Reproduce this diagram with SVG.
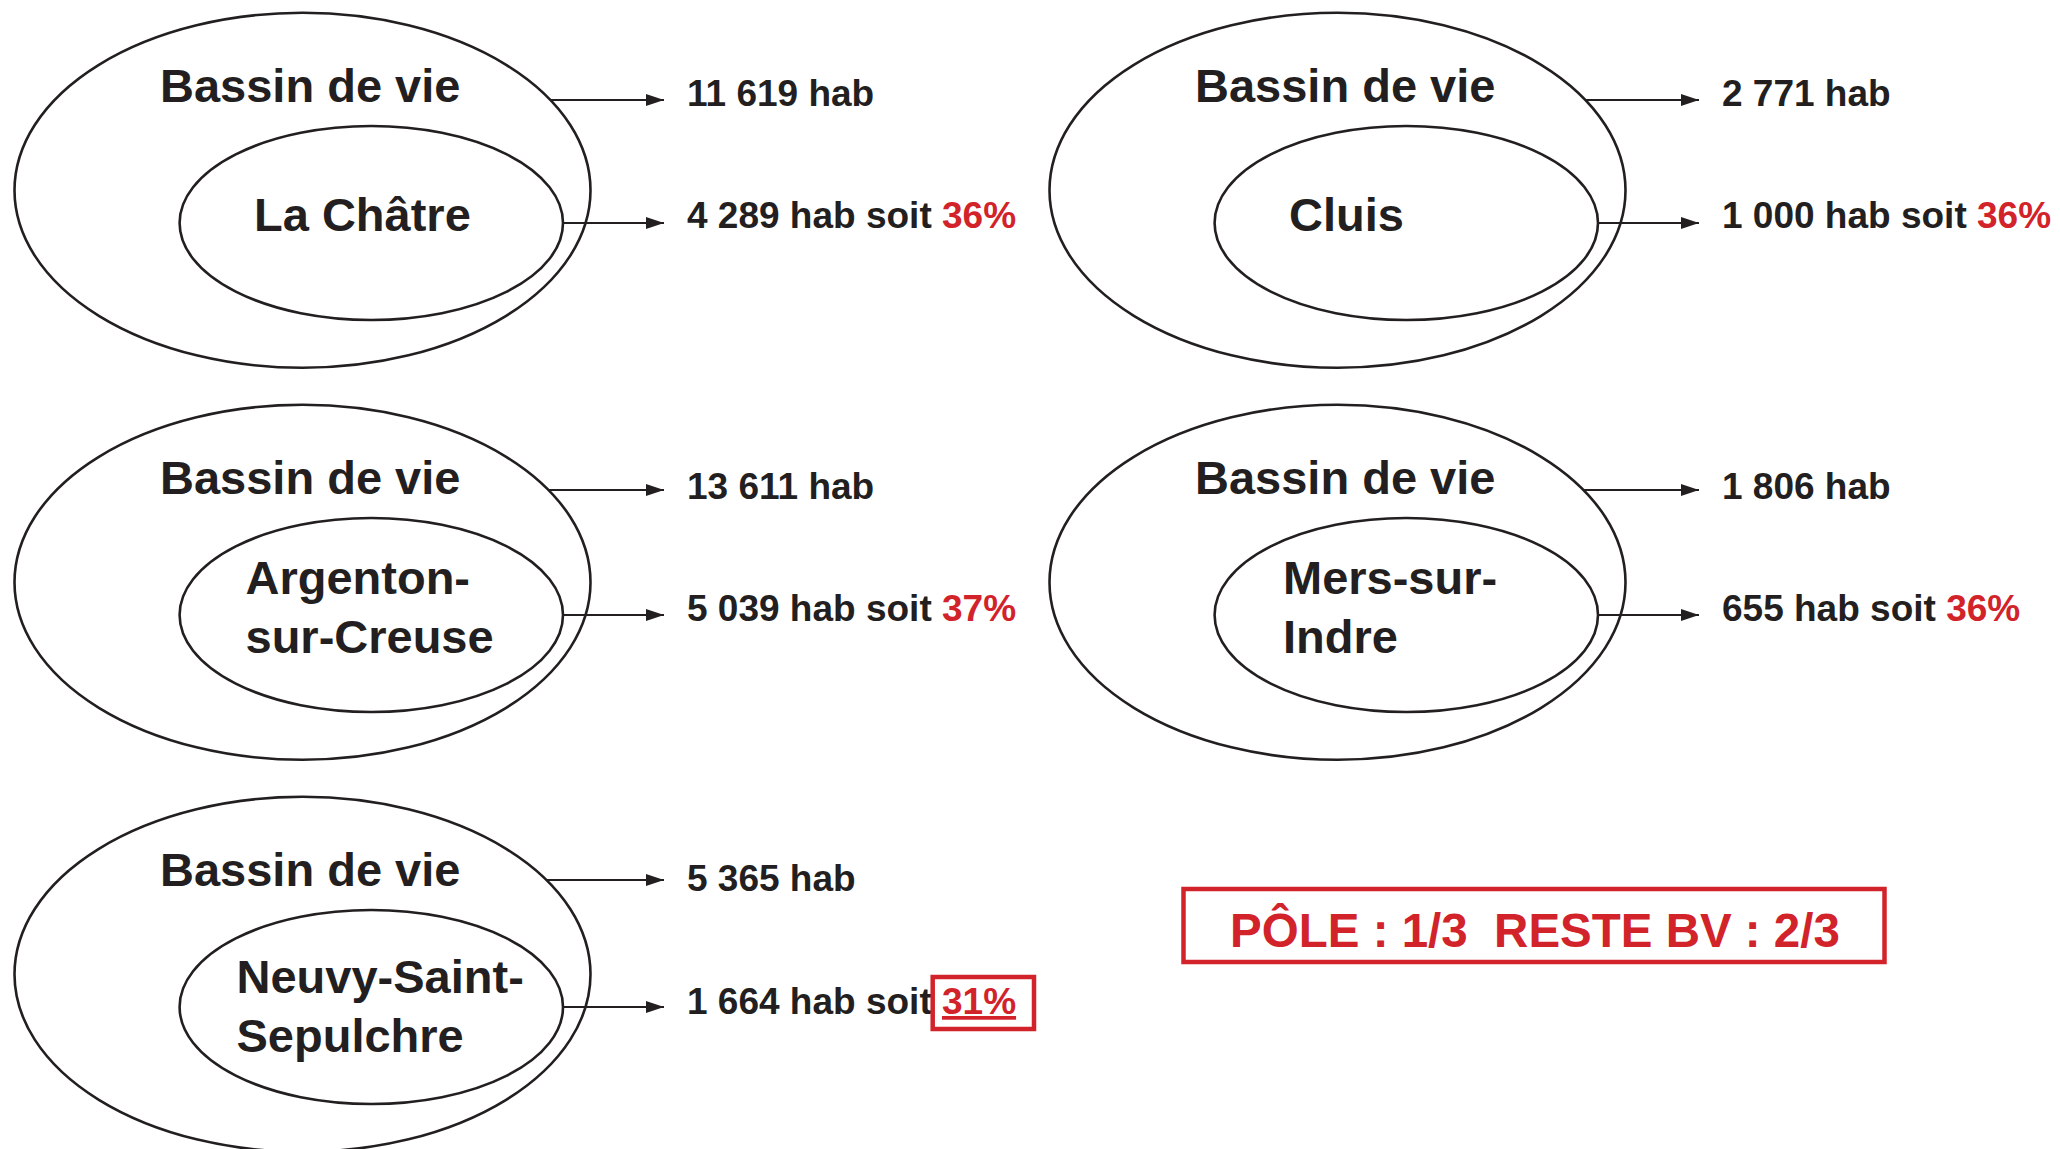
<svg xmlns="http://www.w3.org/2000/svg" width="2060" height="1149" viewBox="0 0 2060 1149">
<style>
.bg{fill:#ffffff}
.ell{fill:none;stroke:#231f20;stroke-width:2.6}
.t{font-family:"Liberation Sans",Arial,Helvetica,sans-serif;font-weight:bold;fill:#231f20}
.big{font-size:47px}
.small{font-size:37px}
.red{fill:#d2232a}
.conn{stroke:#231f20;stroke-width:2.2;fill:none;marker-end:url(#ah)}
.box{fill:none;stroke:#d2232a;stroke-width:4.5}
</style>
<defs>
<marker id="ah" markerWidth="18" markerHeight="12" refX="18" refY="6" orient="auto" markerUnits="userSpaceOnUse">
<path d="M0,0 L18,6 L0,12 Z" fill="#231f20"/>
</marker>
</defs>
<rect class="bg" x="0" y="0" width="2060" height="1149"/>

<g id="bv-la-chatre">
<ellipse class="ell" cx="302.5" cy="190.3" rx="288" ry="177.5"/>
<ellipse class="ell" cx="371.3" cy="223" rx="191.7" ry="97"/>
<text class="t big" x="160" y="101.5">Bassin de vie</text>
<text class="t big" x="254" y="231">La Châtre</text>
<text class="t small" x="687" y="106">11 619 hab</text>
<text class="t small" x="687" y="228">4 289 hab soit <tspan class="red">36%</tspan></text>
</g>

<g id="bv-cluis">
<ellipse class="ell" cx="1337.5" cy="190.3" rx="288" ry="177.5"/>
<ellipse class="ell" cx="1406.3" cy="223" rx="191.7" ry="97"/>
<text class="t big" x="1195" y="101.5">Bassin de vie</text>
<text class="t big" x="1289" y="231">Cluis</text>
<text class="t small" x="1722" y="106">2 771 hab</text>
<text class="t small" x="1722" y="228">1 000 hab soit <tspan class="red">36%</tspan></text>
</g>

<g id="bv-argenton">
<ellipse class="ell" cx="302.5" cy="582.3" rx="288" ry="177.5"/>
<ellipse class="ell" cx="371.3" cy="615" rx="191.7" ry="97"/>
<text class="t big" x="160" y="493.5">Bassin de vie</text>
<text class="t big" x="245.5" y="594">Argenton-</text>
<text class="t big" x="245.5" y="653">sur-Creuse</text>
<text class="t small" x="687" y="499">13 611 hab</text>
<text class="t small" x="687" y="621">5 039 hab soit <tspan class="red">37%</tspan></text>
</g>

<g id="bv-mers">
<ellipse class="ell" cx="1337.5" cy="582.3" rx="288" ry="177.5"/>
<ellipse class="ell" cx="1406.3" cy="615" rx="191.7" ry="97"/>
<text class="t big" x="1195" y="493.5">Bassin de vie</text>
<text class="t big" x="1283" y="594">Mers-sur-</text>
<text class="t big" x="1283" y="653">Indre</text>
<text class="t small" x="1722" y="499">1 806 hab</text>
<text class="t small" x="1722" y="621">655 hab soit <tspan class="red">36%</tspan></text>
</g>

<g id="bv-neuvy">
<ellipse class="ell" cx="302.5" cy="974.3" rx="288" ry="177.5"/>
<ellipse class="ell" cx="371.3" cy="1007" rx="191.7" ry="97"/>
<text class="t big" x="160" y="885.5">Bassin de vie</text>
<text class="t big" x="236.5" y="993">Neuvy-Saint-</text>
<text class="t big" x="236.5" y="1051.5">Sepulchre</text>
<text class="t small" x="687" y="891">5 365 hab</text>
<text class="t small" x="687" y="1014">1 664 hab soit</text>
<text class="t small red" x="942" y="1014" text-decoration="underline">31%</text>
<rect class="box" x="932.7" y="977" width="101.3" height="52"/>
</g>

<g id="summary">
<rect class="box" x="1183.5" y="889" width="701" height="73" stroke-width="5"/>
<text class="t red" x="1535" y="947" font-size="47.5" text-anchor="middle" style="white-space:pre">PÔLE : 1/3  RESTE BV : 2/3</text>
</g>

<g id="connectors">
<line class="conn" x1="550.5" y1="100" x2="664" y2="100"/>
<line class="conn" x1="563" y1="223" x2="664" y2="223"/>
<line class="conn" x1="1585.5" y1="100" x2="1699" y2="100"/>
<line class="conn" x1="1598" y1="223" x2="1699" y2="223"/>
<line class="conn" x1="548" y1="490" x2="664" y2="490"/>
<line class="conn" x1="563" y1="615" x2="664" y2="615"/>
<line class="conn" x1="1583" y1="490" x2="1699" y2="490"/>
<line class="conn" x1="1598" y1="615" x2="1699" y2="615"/>
<line class="conn" x1="546" y1="880" x2="664" y2="880"/>
<line class="conn" x1="563" y1="1007" x2="664" y2="1007"/>
</g>
</svg>
